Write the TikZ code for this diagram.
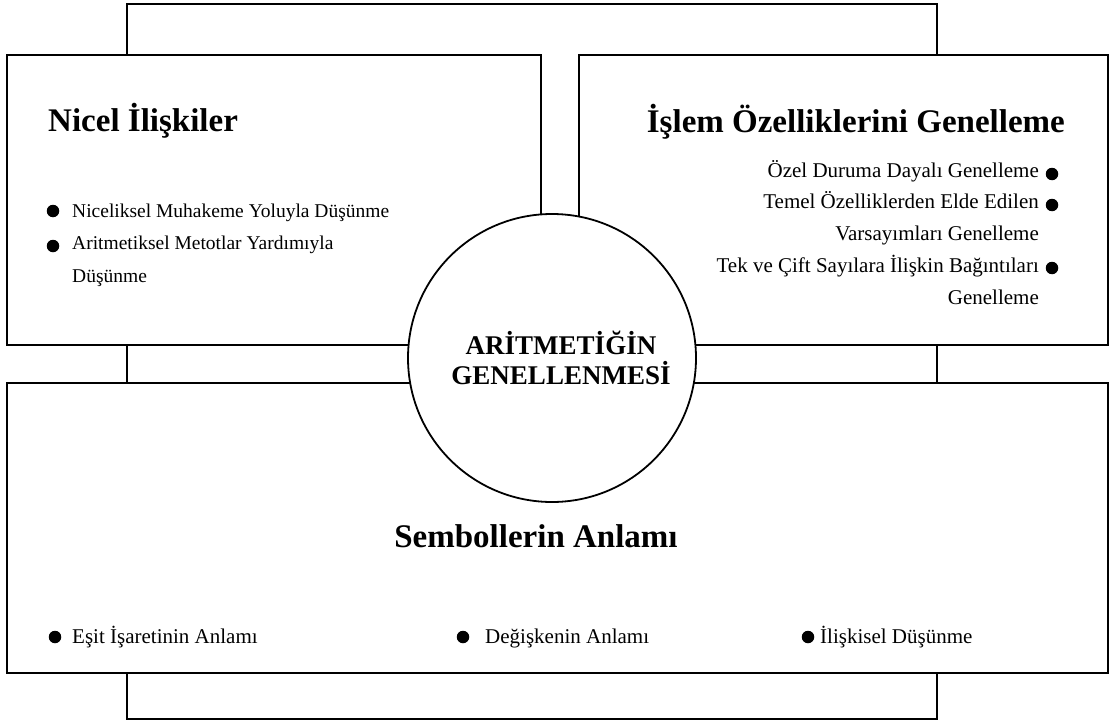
\documentclass[tikz,border=0pt]{standalone}
\usepackage{fontspec}
\setmainfont{Liberation Serif}
\usetikzlibrary{positioning}

\begin{document}
\begin{tikzpicture}[x=1pt, y=-1pt,
    kutu/.style={draw, line width=2.8pt, fill=white, inner sep=0pt},
    baslik/.style={font=\fontsize{33}{40}\selectfont\bfseries, inner sep=0pt},
    madde/.style={font=\fontsize{21}{25}\selectfont, inner sep=0pt},
    nokta/.style={circle, fill=black, inner sep=0pt, minimum size=12.5pt}]
    \useasboundingbox (0,0) rectangle (1113,725);

    % back frame
    \node[kutu, minimum width=810pt, minimum height=715pt] (cerceve) at (532,361.5) {};

    % three boxes
    \node[kutu, minimum width=534pt, minimum height=290pt] (nicel) at (274,200) {};
    \node[kutu, minimum width=529pt, minimum height=290pt] (islem) at (843.5,200) {};
    \node[kutu, minimum width=1101pt, minimum height=290pt] (sembol) at (557.5,528) {};

    % centre circle
    \node[circle, draw, line width=1.8pt, fill=white, minimum size=288pt] (merkez) at (552,358) {};
    \node[font=\fontsize{27}{30}\selectfont\bfseries, align=center, inner sep=0pt] (merkezYazi)
      at ([xshift=9pt]merkez.center) {ARİTMETİĞİN\\GENELLENMESİ};

    % Nicel Ilişkiler
    \node[baslik, anchor=base west] (nicelBaslik) at (48,131) {Nicel İlişkiler};
    \node[madde, font=\fontsize{19.5}{24}\selectfont, anchor=base west] (n1) at (72,217) {Niceliksel Muhakeme Yoluyla Düşünme};
    \node[madde, font=\fontsize{19.5}{24}\selectfont, anchor=base west] (n2) at (72,249) {Aritmetiksel Metotlar Yardımıyla};
    \node[madde, font=\fontsize{19.5}{24}\selectfont, anchor=base west] (n2b) at (72,282) {Düşünme};
    \node[nokta] (n1d) at ([xshift=-19pt, yshift=6pt]n1.base west) {};
    \node[nokta] (n2d) at ([xshift=-19pt, yshift=3pt]n2.base west) {};

    % Islem Ozellikleri
    \node[baslik, anchor=base east] (islemBaslik) at (1065,132) {İşlem Özelliklerini Genelleme};
    \node[madde, anchor=base east] (i1) at (1039,177) {Özel Duruma Dayalı Genelleme};
    \node[madde, anchor=base east] (i2) at (1039,208) {Temel Özelliklerden Elde Edilen};
    \node[madde, anchor=base east] (i2b) at (1039,240) {Varsayımları Genelleme};
    \node[madde, anchor=base east] (i3) at (1039,272) {Tek ve Çift Sayılara İlişkin Bağıntıları};
    \node[madde, anchor=base east] (i3b) at (1039,304) {Genelleme};
    \node[nokta] (i1d) at ([xshift=13pt, yshift=3pt]i1.base east) {};
    \node[nokta] (i2d) at ([xshift=13pt, yshift=3pt]i2.base east) {};
    \node[nokta] (i3d) at ([xshift=13pt, yshift=4pt]i3.base east) {};

    % Sembollerin Anlami
    \node[baslik, anchor=base] (sembolBaslik) at (536,547) {Sembollerin Anlamı};
    \node[madde, anchor=base west] (s1) at (72,643) {Eşit İşaretinin Anlamı};
    \node[madde, anchor=base west] (s2) at (485,643) {Değişkenin Anlamı};
    \node[madde, anchor=base west] (s3) at (820,643) {İlişkisel Düşünme};
    \node[nokta] (s1d) at ([xshift=-17pt, yshift=6pt]s1.base west) {};
    \node[nokta] (s2d) at ([xshift=-22pt, yshift=6pt]s2.base west) {};
    \node[nokta] (s3d) at ([xshift=-12pt, yshift=6pt]s3.base west) {};
\end{tikzpicture}
\end{document}
